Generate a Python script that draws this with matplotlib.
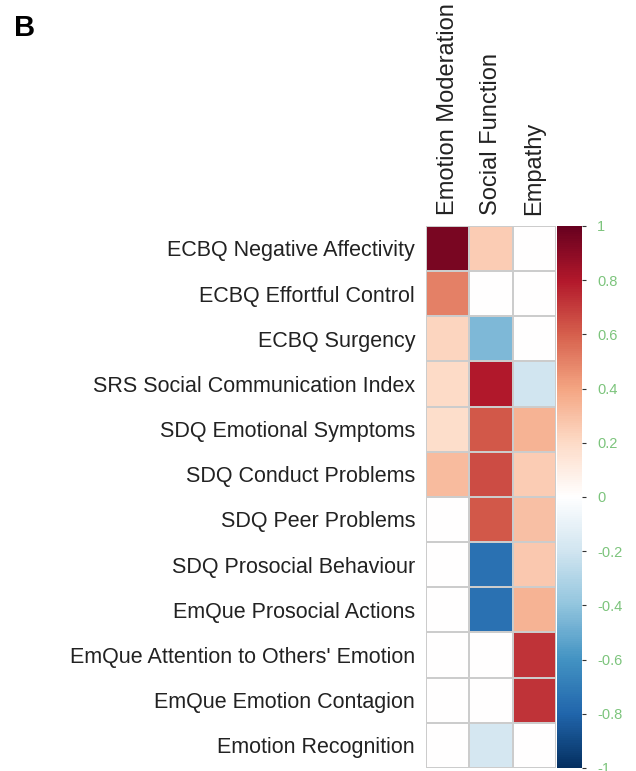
import matplotlib.pyplot as plt
import numpy as np
from matplotlib.colors import LinearSegmentedColormap

plt.rcParams['font.family'] = ['Liberation Sans', 'DejaVu Sans']

rows = ["ECBQ Negative Affectivity", "ECBQ Effortful Control", "ECBQ Surgency",
        "SRS Social Communication Index", "SDQ Emotional Symptoms", "SDQ Conduct Problems",
        "SDQ Peer Problems", "SDQ Prosocial Behaviour", "EmQue Prosocial Actions",
        "EmQue Attention to Others' Emotion", "EmQue Emotion Contagion", "Emotion Recognition"]
cols = ["Emotion Moderation", "Social Function", "Empathy"]

emotion_moderation = [0.95, 0.50, 0.22, 0.20, 0.18, 0.32, 0.0, 0.0, 0.0, 0.0, 0.0, 0.0]
social_function = [0.25, 0.0, -0.45, 0.80, 0.62, 0.65, 0.62, -0.75, -0.75, 0.0, 0.0, -0.18]
empathy = [0.0, 0.0, 0.0, -0.20, 0.35, 0.25, 0.30, 0.27, 0.35, 0.72, 0.72, 0.0]

cbar_ticks = [1, 0.8, 0.6, 0.4, 0.2, 0, -0.2, -0.4, -0.6, -0.8, -1]

data = np.array([emotion_moderation, social_function, empathy]).T

# corrplot style RdBu, white in the middle
cols_rdbu = ["#053061", "#2166AC", "#4393C3", "#92C5DE", "#D1E5F0", "#FFFFFF",
             "#FDDBC7", "#F4A582", "#D6604D", "#B2182B", "#67001F"]
cmap = LinearSegmentedColormap.from_list("corr", cols_rdbu, N=256)

fig = plt.figure(figsize=(6.36, 7.71), dpi=100)
ax = fig.add_axes([0.670, 0.004, 0.204, 0.703])
mesh = ax.pcolormesh(data, cmap=cmap, vmin=-1, vmax=1,
                     edgecolor="#cccccc", linewidth=1.2)
ax.set_xlim(0, 3)
ax.set_ylim(len(rows), 0)
ax.set_xticks(np.arange(3) + 0.5)
ax.set_xticklabels(cols, rotation=90, fontsize=17, color="#222222")
ax.xaxis.tick_top()
ax.set_yticks(np.arange(len(rows)) + 0.5)
ax.set_yticklabels(rows, fontsize=15.5, color="#222222")
ax.tick_params(length=0, pad=8)
for s in ax.spines.values():
    s.set_visible(False)

cax = fig.add_axes([0.876, 0.004, 0.039, 0.703])
cb = fig.colorbar(mesh, cax=cax, ticks=cbar_ticks)
cb.outline.set_visible(False)
cb.ax.set_yticklabels([str(t) for t in cbar_ticks])
cb.ax.tick_params(colors="#333333", labelcolor="#7cc47c", labelsize=10.5, length=3, width=0.8, pad=8)

fig.text(0.022, 0.953, "B", fontsize=21, fontweight="bold")

fig.savefig("out.png", dpi=100)
